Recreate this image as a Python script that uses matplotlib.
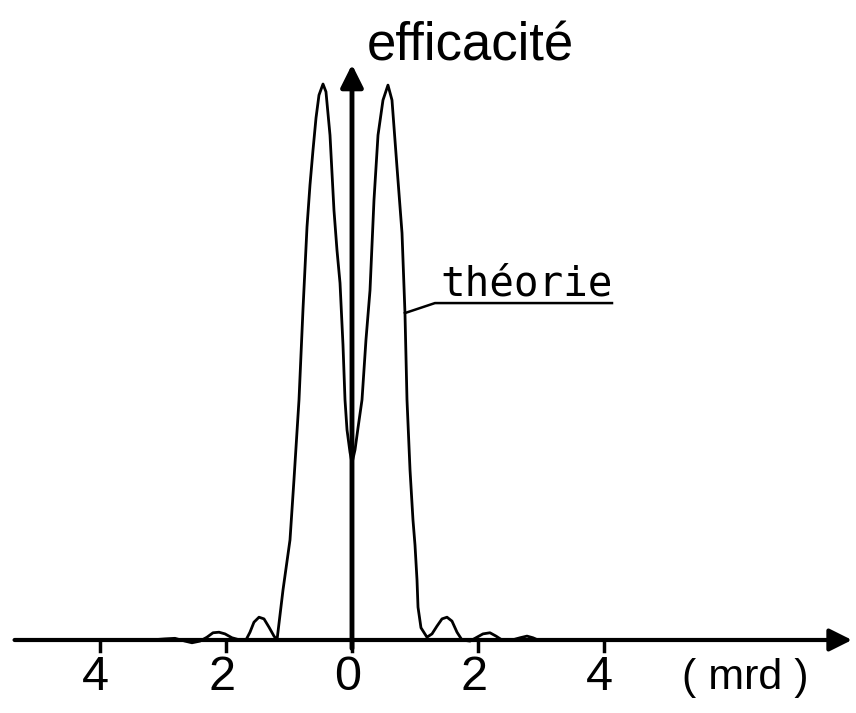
import matplotlib
matplotlib.use("Agg")
import matplotlib.pyplot as plt
import numpy as np

# angle (mrd) et efficacite normalisee
angle = [-3.206, -2.968, -2.810, -2.651, -2.540, -2.413, -2.302, -2.206, -2.111, -2.016,
         -1.905, -1.778, -1.683, -1.619, -1.556, -1.476, -1.397, -1.317, -1.238, -1.190,
         -1.095, -0.984, -0.921, -0.841, -0.778, -0.714, -0.667, -0.619, -0.571, -0.524,
         -0.460, -0.413, -0.349, -0.286, -0.238, -0.190, -0.143, -0.111, -0.079, -0.032,
         0.000, 0.048, 0.095, 0.159, 0.222, 0.286, 0.349, 0.413, 0.492, 0.571,
         0.635, 0.714, 0.794, 0.841, 0.873, 0.921, 0.968, 1.000, 1.032, 1.048,
         1.095, 1.190, 1.270, 1.349, 1.429, 1.508, 1.587, 1.667, 1.746, 1.873,
         1.984, 2.079, 2.190, 2.286, 2.381, 2.540, 2.667, 2.778, 2.873, 2.952]
efficacite = [0.000, 0.002, 0.003, -0.002, -0.005, -0.002, 0.005, 0.013, 0.014, 0.011,
              0.004, 0.000, 0.000, 0.014, 0.032, 0.041, 0.038, 0.023, 0.007, 0.000,
              0.090, 0.180, 0.288, 0.432, 0.594, 0.743, 0.818, 0.881, 0.939, 0.980,
              1.000, 0.986, 0.908, 0.773, 0.701, 0.642, 0.531, 0.432, 0.378, 0.338,
              0.318, 0.342, 0.381, 0.432, 0.540, 0.629, 0.791, 0.908, 0.971, 0.998,
              0.971, 0.851, 0.732, 0.588, 0.432, 0.306, 0.216, 0.171, 0.108, 0.059,
              0.022, 0.005, 0.011, 0.025, 0.038, 0.041, 0.034, 0.014, 0.000, -0.002,
              0.005, 0.011, 0.013, 0.007, 0.000, 0.000, 0.004, 0.007, 0.004, 0.000]

ticks = [-4, -2, 0, 2, 4]
tick_labels = ['4', '2', '0', '2', '4']

fig = plt.figure(figsize=(8.56, 7.13), dpi=100)
ax = fig.add_axes([0, 0, 1, 1])
ax.set_xlim(-5.587, 8.0)
ax.set_ylim(-0.1313, 1.1511)
ax.axis('off')

# courbe
ax.plot(angle, efficacite, color='black', lw=2.0, solid_capstyle='round', zorder=3)

# axes avec fleches
ax.annotate('', xy=(7.98, 0), xytext=(-5.40, 0),
            arrowprops=dict(arrowstyle='-|>', lw=3.0, color='black', mutation_scale=34))
ax.annotate('', xy=(0, 1.04), xytext=(0, -0.02),
            arrowprops=dict(arrowstyle='-|>', lw=3.5, color='black', mutation_scale=34))

# graduations
for t, lab in zip(ticks, tick_labels):
    ax.plot([t, t], [0, -0.02], color='black', lw=2.5)
    ax.text(t - 0.07, -0.068, lab, ha='center', va='center', fontsize=35,
            family=['Liberation Sans', 'DejaVu Sans'])

ax.text(6.25, -0.068, '( mrd )', ha='center', va='center', fontsize=31,
        family=['Liberation Sans', 'DejaVu Sans'])

ax.text(0.238, 1.043, 'efficacité', ha='left', va='baseline', fontsize=38,
        family=['Liberation Sans', 'DejaVu Sans'])

# etiquette theorie avec trait de rappel
ax.text(1.397, 0.6205, 'théorie', ha='left', va='baseline', fontsize=29.5,
        family=['DejaVu Sans Mono'])
ax.plot([0.84, 1.317, 4.127], [0.588, 0.606, 0.606], color='black', lw=1.8)

fig.savefig('out.png', dpi=100)
